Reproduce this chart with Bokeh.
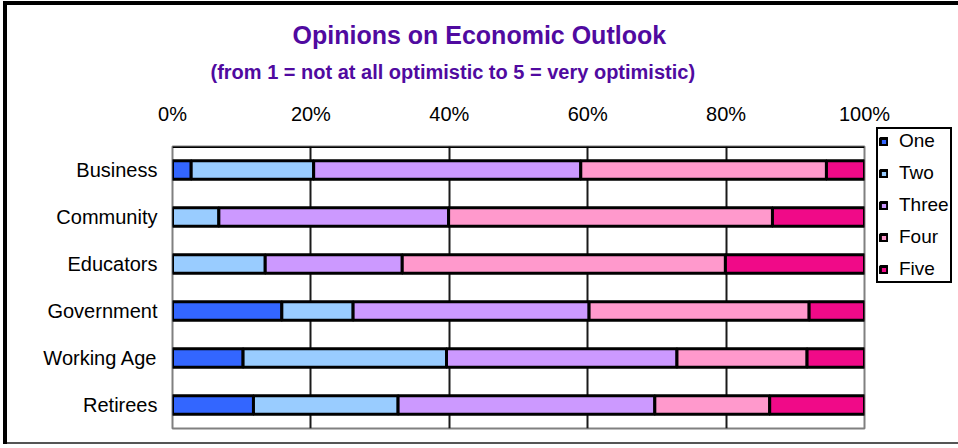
from bokeh.plotting import figure
from bokeh.models import (FactorRange, Range1d, Legend, LegendItem, Title,
                          FixedTicker, Span, PrintfTickFormatter, ColumnDataSource)
from bokeh.embed import file_html
from bokeh.resources import INLINE

categories = ["Business", "Community", "Educators", "Government", "Working Age", "Retirees"]
series = ["One", "Two", "Three", "Four", "Five"]
one = [2.7, 0.0, 0.0, 15.8, 10.2, 11.7]
two = [17.7, 6.7, 13.4, 10.3, 29.4, 20.9]
three = [38.6, 33.2, 19.8, 34.1, 33.3, 37.1]
four = [35.5, 46.8, 46.7, 31.8, 18.8, 16.6]
five = [5.5, 13.3, 20.1, 8.0, 8.3, 13.7]
x_ticks = [0, 20, 40, 60, 80, 100]
colors = ["#3366FF", "#99CCFF", "#CC99FF", "#FF99CC", "#F00A88"]
title_text = "Opinions on Economic Outlook"
subtitle_text = "(from 1 = not at all optimistic to 5 = very optimistic)"

FONT = "Liberation Sans"
PURPLE = "#500AA0"

source = ColumnDataSource(dict(cat=categories, One=one, Two=two, Three=three, Four=four, Five=five))

p = figure(y_range=FactorRange(factors=categories[::-1]), x_range=Range1d(0, 100),
           frame_width=692, frame_height=282,
           min_border_left=172, min_border_right=86, min_border_top=146, min_border_bottom=16,
           x_axis_location="above", output_backend="svg", toolbar_location=None)
p.border_fill_color = None
p.styles = {"box-shadow": "inset 3px 1px 0 0 white, inset 7px 5px 0 0 black, inset 0 -2px 0 0 #555555"}

renderers = p.hbar_stack(series, y="cat", height=0.39, color=colors, source=source,
                         line_color="black", line_width=3)

# axes
xa = p.xaxis[0]
xa.ticker = FixedTicker(ticks=x_ticks)
xa.formatter = PrintfTickFormatter(format="%d%%")
xa.axis_line_color = None
xa.major_tick_line_color = None
xa.major_tick_out = 0
xa.major_tick_in = 0
xa.minor_tick_line_color = None
xa.major_label_standoff = 22
xa.major_label_text_font = FONT
xa.major_label_text_font_size = "20px"
xa.major_label_text_color = "black"

ya = p.yaxis[0]
ya.axis_line_color = None
ya.major_tick_line_color = None
ya.major_tick_out = 0
ya.major_tick_in = 0
ya.major_label_standoff = 15
ya.major_label_text_font = FONT
ya.major_label_text_font_size = "20px"
ya.major_label_text_color = "black"

# grid
p.ygrid.visible = False
p.xgrid.ticker = FixedTicker(ticks=x_ticks[:-1])
p.xgrid.grid_line_color = "#1a1a1a"
p.xgrid.grid_line_width = 2

p.outline_line_color = "#808080"
p.outline_line_width = 2
p.add_layout(Span(location=len(categories), dimension="width", line_color="black", line_width=3))

# titles (stacked above the top axis); first a blank spacer
p.title.text = ""
p.add_layout(Title(text=".", text_font_size="7px", text_color="white", standoff=2), "above")
p.add_layout(Title(text=subtitle_text, align="left", offset=38, standoff=15,
                   text_font=FONT, text_font_size="20px", text_font_style="bold",
                   text_color=PURPLE), "above")
p.add_layout(Title(text=title_text, align="left", offset=120, standoff=6,
                   text_font=FONT, text_font_size="25px", text_font_style="bold",
                   text_color=PURPLE), "above")

# legend
legend = Legend(items=[LegendItem(label=s, renderers=[r]) for s, r in zip(series, renderers)],
                location=(12, 145), orientation="vertical",
                glyph_width=9, glyph_height=9, label_height=20, spacing=10,
                padding=1, margin=0, label_standoff=11,
                label_text_font=FONT, label_text_font_size="19px", label_text_color="black",
                border_line_color="black", border_line_width=2, border_line_alpha=1.0,
                background_fill_color="white", background_fill_alpha=1.0)
p.add_layout(legend, "right")

open("out.html", "w").write(file_html(p, INLINE))
